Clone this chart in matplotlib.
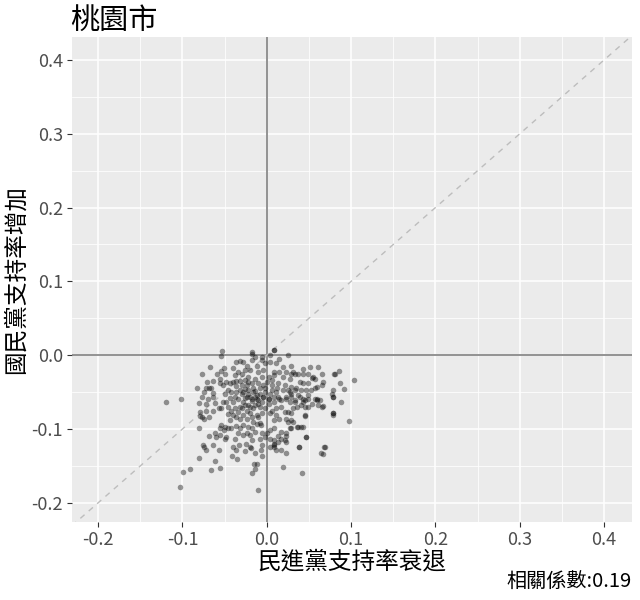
import matplotlib
matplotlib.use("Agg")
import matplotlib.pyplot as plt
from matplotlib.ticker import MultipleLocator

plt.rcParams['font.family'] = ['Noto Sans CJK TC', 'DejaVu Sans']
plt.rcParams['font.weight'] = 'light'

# (民進黨支持率衰退, 國民黨支持率增加) per village
upper_pts = [(-0.053,0.006),(-0.054,-0.001),(-0.017,0.002),(-0.014,-0.002),(0.008,0.007),(0.025,0.000),
             (0.004,0.000),(-0.006,-0.002),(0.009,0.007),(-0.018,0.004),(-0.006,-0.007),(-0.018,-0.007),
             (0.015,-0.005),(-0.067,-0.016),(-0.051,-0.017),(-0.040,-0.017),(-0.036,-0.009),(-0.032,-0.008),
             (-0.028,-0.009),(0.061,-0.016),(0.051,-0.016),(0.043,-0.019)]

left_pts = [(-0.077,-0.026),(-0.054,-0.021),(-0.059,-0.026),(-0.049,-0.026),(-0.071,-0.036),(-0.064,-0.035),
            (-0.056,-0.038),(-0.083,-0.044),(-0.068,-0.044),(-0.064,-0.051),(-0.074,-0.050),(-0.120,-0.064),
            (-0.102,-0.059),(-0.080,-0.065),(-0.070,-0.059),(-0.062,-0.065),(-0.072,-0.075),(-0.079,-0.077),
            (-0.077,-0.084),(-0.064,-0.076),(-0.054,-0.072),(-0.079,-0.083),(-0.081,-0.098),(-0.072,-0.045),
            (-0.066,-0.045),(-0.077,-0.056),(-0.064,-0.056),(-0.072,-0.066),(-0.057,-0.071),(-0.074,-0.086),
            (-0.068,-0.084),(-0.062,-0.106),(-0.056,-0.032),(-0.052,-0.040),(-0.048,-0.037),(-0.052,-0.063),
            (-0.048,-0.063)]

low_pts = [(-0.068,-0.110),(-0.076,-0.122),(-0.072,-0.129),(-0.057,-0.128),(-0.080,-0.139),(-0.061,-0.144),
           (-0.091,-0.154),(-0.099,-0.158),(-0.066,-0.155),(-0.056,-0.153),(-0.103,-0.178),(-0.033,-0.122),
           (-0.041,-0.136),(-0.035,-0.141),(-0.037,-0.129),(-0.026,-0.130),(-0.019,-0.126),(-0.015,-0.148),
           (-0.018,-0.160),(-0.010,-0.182),(-0.014,-0.154),(-0.014,-0.132),(-0.048,-0.111),(-0.056,-0.108),
           (-0.060,-0.111),(-0.075,-0.124),(-0.064,-0.122),(-0.040,-0.124),(-0.025,-0.120),(-0.007,-0.129),
           (-0.006,-0.136),(-0.012,-0.147),(0.019,-0.152),(0.042,-0.159),(0.038,-0.125),(0.068,-0.125),
           (0.064,-0.132),(0.067,-0.134),(0.008,-0.122),(0.004,-0.124),(0.011,-0.128),(0.017,-0.128),
           (0.023,-0.132),(-0.020,-0.124),(-0.006,-0.122),(0.009,-0.124),(0.069,-0.124),(0.038,-0.124)]

right_pts = [(0.080,-0.026),(0.085,-0.021),(0.087,-0.038),(0.103,-0.033),(0.092,-0.046),(0.078,-0.047),
             (0.078,-0.056),(0.088,-0.063),(0.079,-0.079),(0.067,-0.069),(0.059,-0.061),(0.061,-0.068),
             (0.055,-0.029),(0.049,-0.025),(0.043,-0.025),(0.037,-0.025),(0.033,-0.025),(0.031,-0.023),
             (0.029,-0.026),(0.049,-0.038),(0.043,-0.038),(0.039,-0.036),(0.067,-0.036),(0.065,-0.041),
             (0.059,-0.043),(0.052,-0.047),(0.047,-0.047),(0.041,-0.047),(0.033,-0.047),(0.025,-0.047),
             (0.029,-0.052),(0.037,-0.054),(0.049,-0.054),(0.043,-0.059),(0.033,-0.061),(0.027,-0.063),
             (0.036,-0.070),(0.045,-0.070),(0.053,-0.066),(0.025,-0.077),(0.031,-0.072),(0.081,-0.026),
             (0.057,-0.032),(0.053,-0.031),(0.065,-0.025),(0.057,-0.045),(0.029,-0.043),(0.035,-0.045),
             (0.077,-0.052),(0.059,-0.059),(0.049,-0.059),(0.045,-0.083),(0.078,-0.081),(0.098,-0.089),
             (0.036,-0.097),(0.041,-0.097),(0.028,-0.099),(0.025,-0.090),(0.029,-0.088),(0.047,-0.111),
             (0.023,-0.109),(0.021,-0.115),(0.017,-0.113),(0.013,-0.109),(0.004,-0.113),(0.008,-0.120),
             (0.029,-0.056),(0.033,-0.063),(0.039,-0.056),(0.043,-0.063),(0.041,-0.068),(0.045,-0.061),
             (0.049,-0.070),(0.057,-0.059),(0.063,-0.061),(0.065,-0.070),(0.079,-0.056),(0.079,-0.079),
             (0.029,-0.079),(0.031,-0.090),(0.037,-0.097),(0.043,-0.097),(0.045,-0.081),(0.029,-0.099),
             (0.047,-0.111)]

core_pts = [(-0.038,-0.027),(-0.034,-0.023),(-0.030,-0.025),(-0.026,-0.020),(-0.044,-0.038),(-0.040,-0.037),
            (-0.036,-0.035),(-0.032,-0.035),(-0.030,-0.040),(-0.026,-0.034),(-0.024,-0.041),(-0.046,-0.047),
            (-0.042,-0.050),(-0.036,-0.050),(-0.032,-0.047),(-0.028,-0.050),(-0.042,-0.075),(-0.038,-0.072),
            (-0.034,-0.077),(-0.030,-0.072),(-0.026,-0.068),(-0.024,-0.075),(-0.040,-0.081),(-0.036,-0.084),
            (-0.032,-0.086),(-0.028,-0.081),(-0.054,-0.095),(-0.050,-0.097),(-0.046,-0.099),(-0.051,-0.102),
            (-0.056,-0.099),(-0.042,-0.099),(-0.036,-0.096),(-0.032,-0.099),(-0.028,-0.095),(-0.050,-0.113),
            (-0.038,-0.113),(-0.034,-0.106),(-0.028,-0.108),(-0.024,-0.056),(-0.018,-0.059),(-0.014,-0.056),
            (-0.010,-0.061),(-0.004,-0.056),(0.002,-0.059),(0.008,-0.063),(0.013,-0.056),(0.017,-0.061),
            (0.023,-0.059),(-0.022,-0.068),(-0.016,-0.072),(-0.008,-0.070),(-0.002,-0.072),(0.006,-0.075),
            (0.011,-0.072),(0.017,-0.070),(0.021,-0.077),(-0.020,-0.079),(-0.012,-0.081),(-0.006,-0.079),
            (0.004,-0.079),(0.011,-0.081),(0.015,-0.086),(0.023,-0.086),(0.008,-0.088),(-0.022,-0.097),
            (-0.018,-0.099),(-0.012,-0.093),(-0.007,-0.095),(-0.024,-0.106),(-0.020,-0.108),(-0.014,-0.104),
            (-0.006,-0.106),(0.000,-0.106),(0.004,-0.102),(0.009,-0.099),(0.017,-0.104),(0.023,-0.106),
            (-0.018,-0.115),(-0.008,-0.113),(-0.002,-0.111),(0.008,-0.115),(0.013,-0.117),(0.023,-0.117),
            (-0.023,-0.014),(-0.012,-0.014),(-0.002,-0.011),(0.004,-0.009),(0.011,-0.011),(0.019,-0.016),
            (0.029,-0.014),(-0.020,-0.020),(-0.010,-0.023),(-0.004,-0.020),(0.008,-0.023),(0.015,-0.023),
            (0.023,-0.023),(-0.022,-0.029),(-0.014,-0.032),(-0.006,-0.029),(0.002,-0.029),(0.009,-0.027),
            (0.019,-0.029),(0.027,-0.032),(-0.018,-0.038),(-0.010,-0.038),(0.000,-0.036),(0.006,-0.041),
            (0.013,-0.038),(0.021,-0.041),(-0.022,-0.047),(-0.016,-0.050),(-0.008,-0.045),(-0.002,-0.050),
            (0.006,-0.047),(0.011,-0.050),(0.019,-0.047),(0.027,-0.050),(-0.020,-0.056),(-0.012,-0.059),
            (-0.004,-0.056),(0.002,-0.059),(0.009,-0.056),(0.015,-0.059),(0.023,-0.056)]

# darker overlap around the centre of the cloud
dense_pts = [(-0.030,-0.052),(-0.026,-0.058),(-0.022,-0.052),(-0.018,-0.062),(-0.014,-0.048),(-0.010,-0.066),
             (-0.034,-0.060),(-0.038,-0.056),(-0.028,-0.064),(-0.020,-0.070),(-0.016,-0.044),(-0.012,-0.054),
             (-0.006,-0.064),(-0.002,-0.044),(0.002,-0.066),(-0.024,-0.086),(-0.016,-0.090),(-0.010,-0.084),
             (-0.040,-0.064),(-0.044,-0.058),(-0.046,-0.070),(-0.032,-0.070),(-0.026,-0.046),(-0.008,-0.052),
             (-0.004,-0.040),(0.004,-0.052),(-0.036,-0.042),(-0.022,-0.036),(-0.014,-0.068),(-0.044,-0.088),
             (0.006,-0.034),(0.012,-0.044),(-0.050,-0.052),(-0.046,-0.080),(-0.018,-0.084),(-0.008,-0.092)]

x0, x1 = -0.231, 0.433
y0, y1 = -0.226, 0.431

all_pts = upper_pts + left_pts + low_pts + right_pts + core_pts + dense_pts
xs = [p[0] for p in all_pts]
ys = [p[1] for p in all_pts]

fig = plt.figure(figsize=(6.4, 6.0), dpi=100)
ax = fig.add_axes([72/640, 1 - 522/600, 560/640, 485/600])
ax.set_facecolor('#EBEBEB')
for s in ax.spines.values():
    s.set_visible(False)

ax.set_xlim(x0, x1)
ax.set_ylim(y0, y1)
ax.xaxis.set_major_locator(MultipleLocator(0.1))
ax.yaxis.set_major_locator(MultipleLocator(0.1))
ax.xaxis.set_minor_locator(MultipleLocator(0.05))
ax.yaxis.set_minor_locator(MultipleLocator(0.05))
ax.grid(which='major', color='white', linewidth=1.1)
ax.grid(which='minor', color='white', linewidth=0.55)
ax.set_axisbelow(True)
ax.tick_params(which='major', length=3.5, width=0.8, color='#333333', labelcolor='#4D4D4D', labelsize=13, pad=3)
ax.tick_params(which='minor', length=0)
ax.set_xticklabels([f'{v:.1f}' for v in ax.get_xticks()])
ax.set_yticklabels([f'{v:.1f}' for v in ax.get_yticks()])

ax.axhline(0, color='#808080', linewidth=1.2, zorder=1.5)
ax.axvline(0, color='#808080', linewidth=1.2, zorder=1.5)
ax.plot([x0, x1], [x0, x1], color='#BDBDBD', linestyle=(0, (4, 4)), linewidth=1.0, zorder=1.6)

ax.scatter(xs, ys, s=16, color='black', alpha=0.4, linewidths=0, zorder=3)

ax.set_xlabel('民進黨支持率衰退', fontsize=17, color='black', labelpad=1)
ax.set_ylabel('國民黨支持率增加', fontsize=17, color='black', labelpad=3)
fig.text(70/640, 1 - 21/600, '桃園市', fontsize=21, ha='left', va='center')
fig.text(632/640, 1 - 582/600, '相關係數:0.19', fontsize=14.5, ha='right', va='center')

fig.savefig('out.png', dpi=100)
